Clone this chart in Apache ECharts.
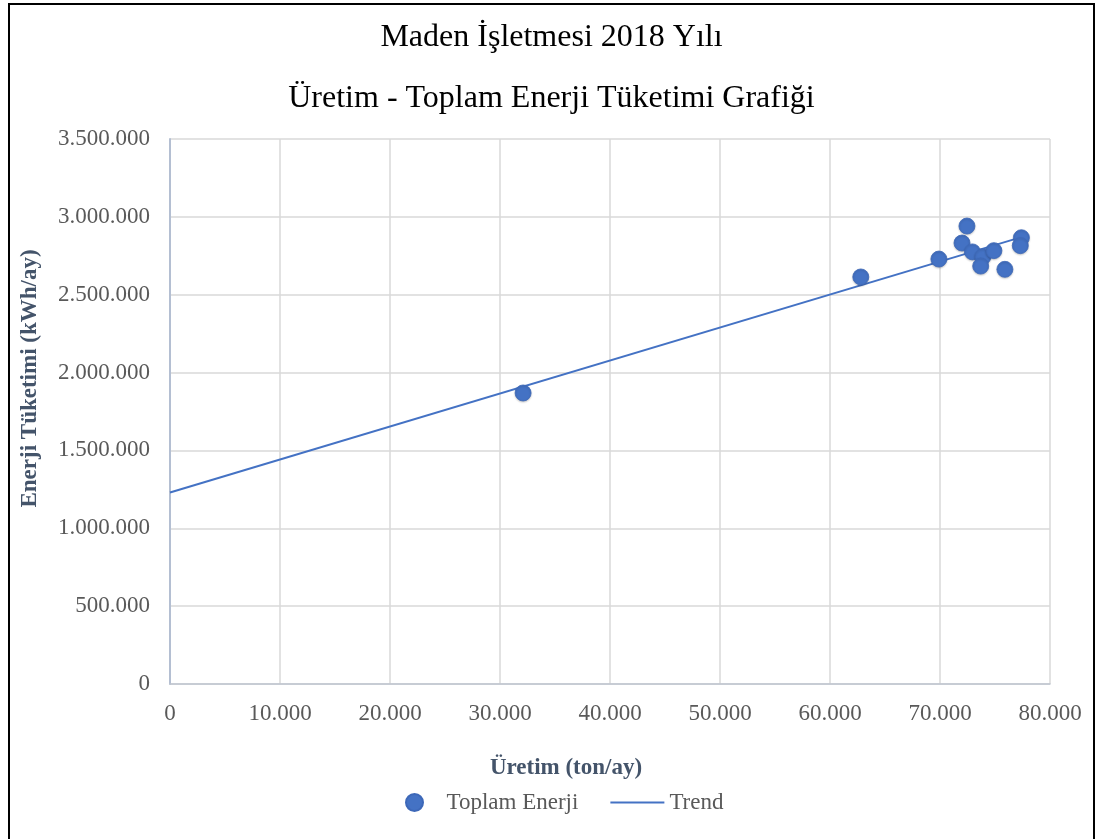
<!DOCTYPE html>
<html>
<head>
<meta charset="utf-8">
<script src="https://cdn.jsdelivr.net/npm/echarts@6/dist/echarts.min.js"></script>
<style>
  html, body { margin: 0; padding: 0; background: #fff; }
  #frame { position: absolute; left: 8px; top: 3px; width: 1087px; height: 840px; border: 2px solid #000; box-sizing: border-box; }
  #chart { position: absolute; left: 0; top: 0; width: 1103px; height: 839px; }
</style>
</head>
<body>
<div id="frame"></div>
<div id="chart"></div>
<script>
// Monthly production (ton/ay) and total energy use (kWh/ay), 2018
const production = [32100, 62800, 69900, 72000, 72450, 72950, 73900, 73700, 74900, 75900, 77400, 77300];
const energy = [1869000, 2614000, 2729000, 2832000, 2941000, 2775000, 2744000, 2684000, 2783000, 2663000, 2866000, 2815000];
// Linear trend line endpoints
const trendX = [0, 77400];
const trendY = [1230000, 2870000];

const xTicks = { min: 0, max: 80000, step: 10000 };
const yTicks = { min: 0, max: 3500000, step: 500000 };

const fmt = v => v === 0 ? '0' : String(Math.round(v)).replace(/\B(?=(\d{3})+(?!\d))/g, '.');

const serif = '"Liberation Serif", "DejaVu Serif", serif';
const blue = '#4472c4';
const slate = '#44546a';
const tickGray = '#595959';

const chart = echarts.init(document.getElementById('chart'));
chart.setOption({
  animation: false,
  title: [
    { text: 'Maden İşletmesi 2018 Yılı', left: 'center', top: 17,
      textStyle: { fontFamily: serif, fontSize: 32, fontWeight: 'normal', color: '#000' } },
    { text: 'Üretim - Toplam Enerji Tüketimi Grafiği', left: 'center', top: 78,
      textStyle: { fontFamily: serif, fontSize: 32, fontWeight: 'normal', color: '#000' } }
  ],
  grid: { left: 170, top: 139, right: 53, bottom: 155, containLabel: false },
  legend: {
    bottom: 20, left: 400, itemGap: 32, itemWidth: 54, itemHeight: 17,
    textStyle: { fontFamily: serif, fontSize: 23, color: tickGray },
    data: [
      { name: 'Toplam Enerji', icon: 'circle', itemStyle: { color: blue } },
      { name: 'Trend', icon: 'path://M0,0 L54,0 L54,2 L0,2 Z', itemStyle: { color: blue } }
    ]
  },
  xAxis: {
    type: 'value', min: xTicks.min, max: xTicks.max, interval: xTicks.step,
    name: 'Üretim (ton/ay)', nameLocation: 'middle', nameGap: 73,
    nameTextStyle: { fontFamily: serif, fontSize: 23, fontWeight: 'bold', color: slate, padding: [0, 88, 0, 0] },
    axisLine: { show: true, lineStyle: { color: '#bfc5cf', width: 1.5 } },
    axisTick: { show: false },
    splitLine: { show: true, lineStyle: { color: '#d9d9d9', width: 1.5 } },
    axisLabel: { fontFamily: serif, fontSize: 23, color: tickGray, margin: 18, formatter: fmt }
  },
  yAxis: {
    type: 'value', min: yTicks.min, max: yTicks.max, interval: yTicks.step,
    name: 'Enerji Tüketimi (kWh/ay)', nameLocation: 'middle', nameGap: 128, nameRotate: 90,
    nameTextStyle: { fontFamily: serif, fontSize: 23, fontWeight: 'bold', color: slate, padding: [0, 0, 0, 66] },
    axisLine: { show: true, lineStyle: { color: '#b4bfd2', width: 2 } },
    axisTick: { show: false },
    splitLine: { show: true, lineStyle: { color: '#d9d9d9', width: 1.5 } },
    axisLabel: { fontFamily: serif, fontSize: 23, color: tickGray, margin: 20, formatter: fmt }
  },
  series: [
    {
      name: 'Trend', type: 'line', symbol: 'none', silent: true, z: 2,
      data: trendX.map((x, i) => [x, trendY[i]]),
      lineStyle: { color: blue, width: 2 }
    },
    {
      name: 'Toplam Enerji', type: 'scatter', symbol: 'circle', symbolSize: 16, z: 3,
      data: production.map((x, i) => [x, energy[i]]),
      itemStyle: { color: blue, opacity: 1, borderColor: '#3d68b8', borderWidth: 0.8,
        shadowColor: 'rgba(0,0,0,0.2)', shadowBlur: 2, shadowOffsetY: 1 }
    }
  ]
});
</script>
</body>
</html>
